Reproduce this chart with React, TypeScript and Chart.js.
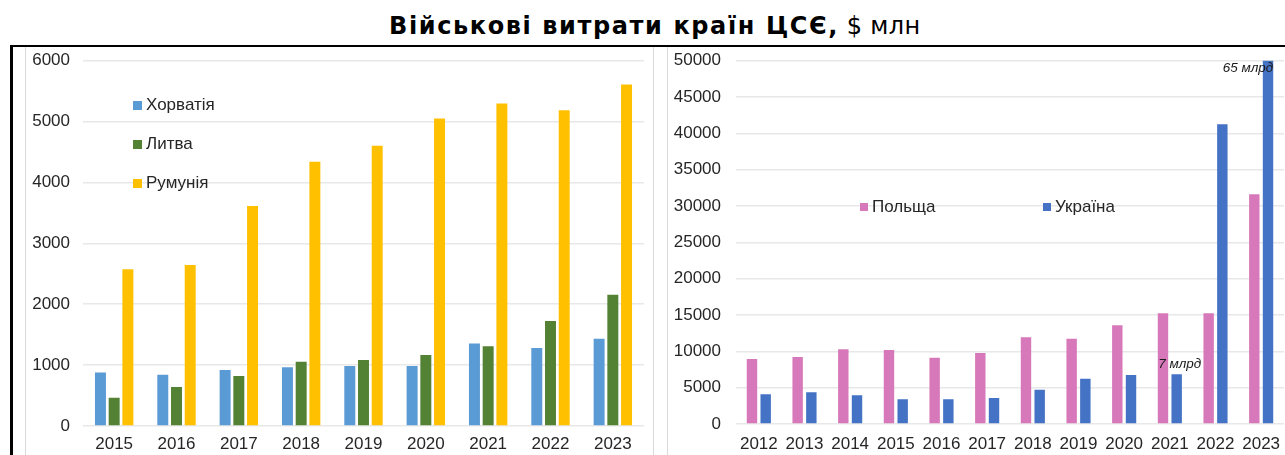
import React, { useEffect, useRef } from "react";
import { Chart, registerables } from "chart.js";

Chart.register(...registerables);

// ---------- data ----------
const leftYears = ["2015", "2016", "2017", "2018", "2019", "2020", "2021", "2022", "2023"];
const croatia = [880, 840, 920, 965, 985, 985, 1355, 1280, 1435];
const lithuania = [465, 640, 820, 1055, 1085, 1165, 1310, 1725, 2155];
const romania = [2575, 2645, 3615, 4340, 4605, 5050, 5295, 5185, 5610];
const leftTicks = [0, 1000, 2000, 3000, 4000, 5000, 6000];

const rightYears = ["2012", "2013", "2014", "2015", "2016", "2017", "2018", "2019", "2020", "2021", "2022", "2023"];
const poland = [8950, 9220, 10275, 10185, 9130, 9770, 11930, 11745, 13580, 15230, 15230, 31610];
const ukraine = [4085, 4360, 3945, 3395, 3395, 3580, 4725, 6240, 6745, 6835, 41240, 65000];
const ukraineNotes = ["", "", "", "", "", "", "", "", "", "7 млрд", "", "65 млрд"];
const rightTicks = [0, 5000, 10000, 15000, 20000, 25000, 30000, 35000, 40000, 45000, 50000];

const leftSeriesNames = ["Хорватія", "Литва", "Румунія"];
const rightSeriesNames = ["Польща", "Україна"];

// ---------- styles ----------
const C_CRO = "#5B9BD5";
const C_LIT = "#548235";
const C_ROM = "#FFC000";
const C_POL = "#D678BA";
const C_UKR = "#4472C4";
const FONT = '"Liberation Sans", Arial, sans-serif';
const TICK_COLOR = "#262626";
const GRID_COLOR = "#E8E8E8";

const notesPlugin = {
  id: "barNotes",
  afterDatasetsDraw(chart: any) {
    const meta = chart.getDatasetMeta(1);
    const ctx = chart.ctx;
    const area = chart.chartArea;
    ctx.save();
    ctx.font = "italic 13.5px " + FONT;
    ctx.fillStyle = "#1a1a1a";
    ctx.textAlign = "center";
    ctx.textBaseline = "middle";
    ukraineNotes.forEach((t, i) => {
      if (!t) return;
      const el = meta.data[i];
      if (!el) return;
      if (el.y < area.top) {
        ctx.fillText(t, el.x - 20, area.top + 7.5);
      } else {
        ctx.fillText(t, el.x + 3, el.y - 10);
      }
    });
    ctx.restore();
  },
};

function makeOptions(p: {
  max: number;
  ticks: number[];
  yWidth: number;
  yPad: number;
  xHeight: number;
  xPad: number;
  padTop: number;
  padRight: number;
}) {
  return {
    responsive: false,
    maintainAspectRatio: false,
    animation: false as const,
    layout: { padding: { top: p.padTop, right: p.padRight, left: 0, bottom: 0 } },
    plugins: { legend: { display: false }, tooltip: { enabled: false }, title: { display: false } },
    scales: {
      x: {
        grid: { display: false, drawTicks: false },
        border: { display: false },
        ticks: { color: TICK_COLOR, font: { family: FONT, size: 17 }, padding: p.xPad, maxRotation: 0, autoSkip: false },
        afterFit: (s: any) => {
          s.height = p.xHeight;
          s.paddingLeft = 0;
          s.paddingRight = 0;
        },
      },
      y: {
        min: 0,
        max: p.max,
        afterBuildTicks: (s: any) => {
          s.ticks = p.ticks.map((v) => ({ value: v }));
        },
        grid: { color: GRID_COLOR, lineWidth: 1.5, drawTicks: false },
        border: { display: false },
        ticks: {
          color: TICK_COLOR,
          font: { family: FONT, size: 17 },
          padding: p.yPad,
          callback: (v: any) => String(v),
        },
        afterFit: (s: any) => {
          s.width = p.yWidth;
          s.paddingTop = 0;
          s.paddingBottom = 0;
        },
      },
    },
  };
}

function LeftChart() {
  const ref = useRef<HTMLCanvasElement>(null);
  useEffect(() => {
    if (!ref.current) return;
    const common = { categoryPercentage: 0.66, barPercentage: 0.8, borderWidth: 0 };
    const chart = new Chart(ref.current, {
      type: "bar",
      data: {
        labels: leftYears,
        datasets: [
          { label: leftSeriesNames[0], data: croatia, backgroundColor: C_CRO, ...common },
          { label: leftSeriesNames[1], data: lithuania, backgroundColor: C_LIT, ...common },
          { label: leftSeriesNames[2], data: romania, backgroundColor: C_ROM, ...common },
        ],
      },
      options: makeOptions({
        max: 6000,
        ticks: leftTicks,
        yWidth: 71,
        yPad: 13,
        xHeight: 29,
        xPad: 8,
        padTop: 13.7,
        padRight: 9,
      }) as any,
    });
    return () => chart.destroy();
  }, []);
  return (
    <canvas
      ref={ref}
      width={641}
      height={408}
      style={{ position: "absolute", left: 12, top: 47, width: 641, height: 408 }}
    />
  );
}

function RightChart() {
  const ref = useRef<HTMLCanvasElement>(null);
  useEffect(() => {
    if (!ref.current) return;
    const common = { categoryPercentage: 0.6, barPercentage: 0.76, borderWidth: 0 };
    const chart = new Chart(ref.current, {
      type: "bar",
      data: {
        labels: rightYears,
        datasets: [
          { label: rightSeriesNames[0], data: poland, backgroundColor: C_POL, ...common },
          { label: rightSeriesNames[1], data: ukraine, backgroundColor: C_UKR, ...common },
        ],
      },
      options: makeOptions({
        max: 50000,
        ticks: rightTicks,
        yWidth: 69,
        yPad: 15,
        xHeight: 31,
        xPad: 10,
        padTop: 13.7,
        padRight: 1,
      }) as any,
      plugins: [notesPlugin],
    });
    return () => chart.destroy();
  }, []);
  return (
    <canvas
      ref={ref}
      width={618}
      height={408}
      style={{ position: "absolute", left: 667, top: 47, width: 618, height: 408 }}
    />
  );
}

function LegendItem({ x, y, color, text, size }: { x: number; y: number; color: string; text: string; size: number }) {
  return (
    <div
      style={{
        position: "absolute",
        left: x,
        top: y - 11,
        height: 22,
        display: "flex",
        alignItems: "center",
        fontFamily: FONT,
        fontSize: 17,
        color: TICK_COLOR,
        whiteSpace: "nowrap",
      }}
    >
      <span style={{ display: "inline-block", width: size, height: size, background: color, marginRight: 4 }} />
      <span>{text}</span>
    </div>
  );
}

export default function App() {
  return (
    <div
      style={{
        position: "absolute",
        left: 0,
        top: 0,
        width: 1285,
        height: 455,
        overflow: "hidden",
        background: "#fff",
      }}
    >
      <div
        style={{
          position: "absolute",
          left: 389,
          top: 13,
          lineHeight: "26px",
          fontSize: 24,
          fontFamily: '"DejaVu Sans", Verdana, sans-serif',
          color: "#000",
          whiteSpace: "nowrap",
        }}
      >
        <span style={{ fontWeight: "bold", letterSpacing: "1.6px" }}>Військові витрати країн ЦСЄ,</span>
        <span style={{ letterSpacing: "0.3px" }}> $ млн</span>
      </div>
      {/* frame lines */}
      <div style={{ position: "absolute", left: 10, top: 45, width: 1275, height: 2, background: "#000" }} />
      <div style={{ position: "absolute", left: 10, top: 45, width: 3, height: 410, background: "#000" }} />
      <div style={{ position: "absolute", left: 25, top: 47, width: 1, height: 408, background: "#D9D9D9" }} />
      <div style={{ position: "absolute", left: 653, top: 47, width: 1, height: 408, background: "#D9D9D9" }} />
      <div style={{ position: "absolute", left: 667, top: 47, width: 1, height: 408, background: "#D9D9D9" }} />

      <LeftChart />
      <RightChart />

      <LegendItem x={133} y={105} color={C_CRO} text={leftSeriesNames[0]} size={9} />
      <LegendItem x={133} y={144} color={C_LIT} text={leftSeriesNames[1]} size={9} />
      <LegendItem x={133} y={183} color={C_ROM} text={leftSeriesNames[2]} size={9} />
      <LegendItem x={860} y={207} color={C_POL} text={rightSeriesNames[0]} size={8} />
      <LegendItem x={1043} y={207} color={C_UKR} text={rightSeriesNames[1]} size={8} />
    </div>
  );
}
